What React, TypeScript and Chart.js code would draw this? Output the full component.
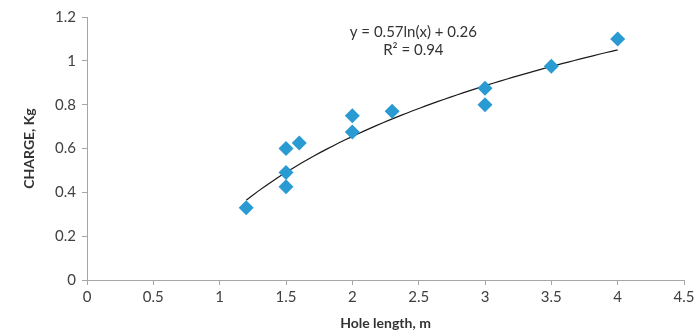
import React, { useEffect, useRef } from "react";
import { Chart, registerables } from "chart.js";

Chart.register(...registerables);

const holeLength = [1.2, 1.5, 1.5, 1.5, 1.6, 2, 2, 2.3, 3, 3, 3.5, 4];
const charge = [0.33, 0.6, 0.49, 0.425, 0.625, 0.75, 0.675, 0.77, 0.8, 0.875, 0.975, 1.1];
const xTicks = [0, 0.5, 1, 1.5, 2, 2.5, 3, 3.5, 4, 4.5];
const yTicks = [0, 0.2, 0.4, 0.6, 0.8, 1, 1.2];
const fitA = 0.57;
const fitB = 0.26;
const fitLabel = "y = 0.57ln(x) + 0.26";
const r2Label = "R² = 0.94";

const FONT = "Lato, 'Open Sans', sans-serif";

export default function App() {
  const ref = useRef<HTMLCanvasElement | null>(null);
  useEffect(() => {
    document.body.style.margin = "0";
    const xMin = Math.min(...holeLength);
    const xMax = Math.max(...holeLength);
    const trend: { x: number; y: number }[] = [];
    for (let i = 0; i <= 60; i++) {
      const x = xMin + ((xMax - xMin) * i) / 60;
      trend.push({ x, y: fitA * Math.log(x) + fitB });
    }
    const annot = {
      id: "annot",
      afterDraw(chart: any) {
        const ctx = chart.ctx;
        const xs = chart.scales.x;
        const ys = chart.scales.y;
        const cx = xs.getPixelForValue(2.46);
        ctx.save();
        ctx.fillStyle = "#333";
        ctx.font = `15px ${FONT}`;
        ctx.textAlign = "center";
        ctx.textBaseline = "middle";
        ctx.fillText(fitLabel, cx, ys.getPixelForValue(1.132));
        ctx.fillText(r2Label, cx, ys.getPixelForValue(1.05));
        ctx.restore();
      },
    };
    const chart = new Chart(ref.current!, {
      type: "scatter",
      data: {
        datasets: [
          {
            label: "Charge",
            data: holeLength.map((x, i) => ({ x, y: charge[i] })),
            pointStyle: "rectRot",
            pointRadius: 7.5,
            backgroundColor: "#2a9ad3",
            borderColor: "#2a9ad3",
            borderWidth: 0,
          },
          {
            label: "Trend",
            type: "line",
            data: trend,
            borderColor: "#1a1a1a",
            borderWidth: 1.2,
            pointRadius: 0,
            fill: false,
            tension: 0,
          } as any,
        ],
      },
      options: {
        animation: false,
        responsive: false,
        layout: { padding: { top: 17, right: 15, left: 0, bottom: 0 } },
        plugins: { legend: { display: false }, tooltip: { enabled: false } },
        scales: {
          x: {
            type: "linear",
            min: 0,
            max: 4.5,
            afterBuildTicks: (s: any) => {
              s.ticks = xTicks.map((v) => ({ value: v }));
            },
            afterFit: (s: any) => {
              s.height = 56;
            },
            ticks: {
              color: "#404040",
              font: { family: FONT, size: 15 },
              padding: 3,
              maxRotation: 0,
              callback: (v: any) => String(+Number(v).toFixed(1)),
            },
            grid: { drawOnChartArea: false, drawTicks: true, tickLength: 5, color: "#a6a6a6" },
            border: { color: "#a6a6a6", width: 1 },
            title: {
              display: true,
              text: "Hole length, m",
              color: "#333",
              font: { family: FONT, size: 14, weight: "bold" },
              padding: { top: 6 },
            },
          },
          y: {
            type: "linear",
            min: 0,
            max: 1.2,
            afterBuildTicks: (s: any) => {
              s.ticks = yTicks.map((v) => ({ value: v }));
            },
            afterFit: (s: any) => {
              s.width = 87;
            },
            ticks: {
              color: "#404040",
              font: { family: FONT, size: 15 },
              padding: 6,
              callback: (v: any) => String(+Number(v).toFixed(1)),
            },
            grid: { drawOnChartArea: false, drawTicks: true, tickLength: 5, color: "#a6a6a6" },
            border: { color: "#a6a6a6", width: 1 },
            title: {
              display: true,
              text: "CHARGE, Kg",
              color: "#333",
              font: { family: FONT, size: 14, weight: "bold" },
              padding: { top: 21, bottom: 0 },
            },
          },
        },
      },
      plugins: [annot],
    });
    return () => chart.destroy();
  }, []);
  return (
    <div style={{ width: 699, height: 336, background: "#fff" }}>
      <canvas ref={ref} width={699} height={336} style={{ display: "block" }} />
    </div>
  );
}
